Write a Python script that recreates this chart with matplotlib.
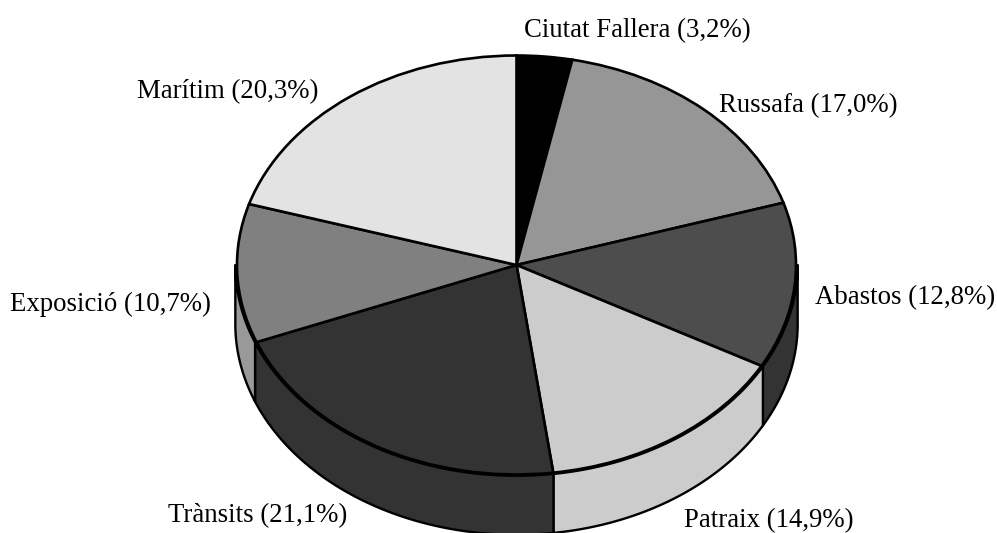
import numpy as np
import matplotlib
matplotlib.use('Agg')
import matplotlib.pyplot as plt

# Dades del gràfic
districtes = ['Ciutat Fallera', 'Russafa', 'Abastos', 'Patraix', 'Trànsits', 'Exposició', 'Marítim']
percentatges = [3.2, 17.0, 12.8, 14.9, 21.1, 10.7, 20.3]
colors_dalt = ['#000000', '#969696', '#4d4d4d', '#cccccc', '#333333', '#808080', '#e3e3e3']
colors_lateral = ['#000000', '#969696', '#333333', '#cccccc', '#333333', '#999999', '#e3e3e3']

# centre i radis del pastis en pixels
W, H = 997, 533
cx, cy = 516.5, 265
rx, ry = 279.5, 209.5
gruix = 59 / ry
# la paret es una mica mes ampla que la cara de dalt
marge = 1.006

plt.rcParams['font.family'] = ['Liberation Serif', 'DejaVu Serif']

fig = plt.figure(figsize=(W / 100, H / 100), dpi=100)
ax = fig.add_axes([0, 0, 1, 1])

# parets laterals, nomes la part de davant (angles entre 90 i 270)
total = sum(percentatges)
acum = np.cumsum([0] + percentatges) / total * 360
for i in range(len(percentatges)):
    a0 = max(acum[i], 90)
    a1 = min(acum[i + 1], 270)
    if a1 <= a0:
        continue
    t = np.radians(np.linspace(a0, a1, 80))
    x = np.sin(t) * marge
    y = np.cos(t) * marge
    ax.fill(np.r_[x, x[::-1]], np.r_[y, y[::-1] - gruix],
            facecolor=colors_lateral[i], edgecolor='black', linewidth=1.7, joinstyle='round')

# cara de dalt
ax.pie(percentatges, colors=colors_dalt, startangle=90, counterclock=False, radius=1,
       wedgeprops={'edgecolor': 'black', 'linewidth': 1.9})

ax.set_aspect('auto')
ax.set_xlim(-cx / rx, (W - cx) / rx)
ax.set_ylim(-(H - cy) / ry, cy / ry)
ax.axis('off')

# etiquetes (posicio en pixels)
llocs = [(524, 31), (719, 106), (815, 298), (684, 521), (168, 516), (10, 304), (137, 92)]
for nom, p, (px, py) in zip(districtes, percentatges, llocs):
    text = f'{nom} ({p:.1f}%)'.replace('.', ',')
    ax.text((px - cx) / rx, (cy - py) / ry, text, fontsize=19.3, color='black',
            ha='left', va='center')

plt.savefig('out.png', dpi=100)
